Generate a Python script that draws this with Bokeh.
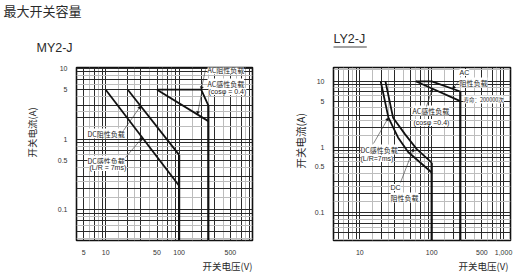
import math
from bokeh.plotting import figure
from bokeh.layouts import row
from bokeh.models import FixedTicker, Grid, Label, Arrow, NormalHead, Range1d, Title
from bokeh.embed import file_html
from bokeh.resources import INLINE

CJK = "Noto Sans CJK SC"
LAT = "Liberation Sans"
INK = "#111111"

# ---------------- MY2-J ----------------
my_x_ticks = [5, 10, 50, 100, 500]
my_x_labels = ["5", "10", "50", "100", "500"]
my_y_ticks = [0.1, 0.5, 1, 5, 10]
my_y_labels = ["0.1", "0.5", "1", "5", "10"]

my_ac_res_v = [50, 200, 250]
my_ac_res_a = [5, 5, 3]
my_ac_ind_v = [50, 250]
my_ac_ind_a = [5, 1.8]
my_dc_res_v = [20, 100]
my_dc_res_a = [5, 0.6]
my_dc_ind_v = [10, 100]
my_dc_ind_a = [5, 0.22]
my_ac_limit_v = 250
my_dc_limit_v = 100

# ---------------- LY2-J ----------------
ly_x_ticks = [10, 100, 500, 1000]
ly_x_labels = ["10", "100", "500", "1,000"]
ly_y_ticks = [0.1, 0.5, 1, 5, 10]
ly_y_labels = ["0.1", "0.5", "1", "5", "10"]

ly_ac_res_v = [60, 100, 250]
ly_ac_res_a = [10, 10, 7]
ly_ac_ind_v = [60, 250]
ly_ac_ind_a = [10, 5]
ly_dc_res_v = [22.7, 29, 42.7, 62, 100]
ly_dc_res_a = [10, 2.8, 1.56, 0.93, 0.58]
ly_dc_ind_v = [19.5, 25, 34, 47, 100]
ly_dc_ind_a = [10, 2.8, 1.4, 0.84, 0.41]
ly_ac_limit_v = 250
ly_dc_limit_v = 100


def decade_lines(mults, lo_exp, hi_exp):
    return [m * 10.0 ** e for e in range(lo_exp, hi_exp + 1) for m in mults]


def make_fig(x_rng, y_rng, border, xt, xl, yt, yl):
    left, right, top, bottom = border
    p = figure(width=262, height=277, x_axis_type="log", y_axis_type="log",
               x_range=Range1d(*x_rng), y_range=Range1d(*y_rng),
               output_backend="svg", toolbar_location=None,
               min_border_left=left, min_border_right=right,
               min_border_top=top, min_border_bottom=bottom)
    p.outline_line_color = INK
    p.outline_line_width = 1.6
    p.grid.visible = False
    # light log-paper rulings, then the heavier ones on top
    for dim in (0, 1):
        p.add_layout(Grid(dimension=dim,
                          ticker=FixedTicker(ticks=decade_lines([1.5, 2.5, 4, 6, 8], -2, 3)),
                          grid_line_color="#bdbdbd", grid_line_width=1))
        p.add_layout(Grid(dimension=dim,
                          ticker=FixedTicker(ticks=decade_lines([1, 2, 3, 5, 7, 9], -2, 3)),
                          grid_line_color="#2a2a2a", grid_line_width=1))
    p.xaxis.ticker = FixedTicker(ticks=xt)
    p.xaxis.major_label_overrides = {v: s for v, s in zip(xt, xl)}
    p.yaxis.ticker = FixedTicker(ticks=yt)
    p.yaxis.major_label_overrides = {v: s for v, s in zip(yt, yl)}
    for ax in (p.xaxis, p.yaxis):
        ax.axis_line_color = None
        ax.major_tick_line_color = None
        ax.minor_tick_line_color = None
        ax.major_label_text_font = LAT
        ax.major_label_text_font_size = "7px"
        ax.major_label_text_color = "#333333"
    p.xaxis.major_label_standoff = 3
    p.yaxis.major_label_standoff = 3
    return p


def heading(p, text, side, size, font, align="left", offset=0, standoff=0, valign="bottom"):
    t = Title(text=text, align=align, offset=offset, standoff=standoff,
              vertical_align=valign, text_font=font, text_font_size=size,
              text_font_style="normal", text_color="#2a2a2a")
    p.add_layout(t, side)
    return t


def curve(p, xs, ys):
    p.line(xs, ys, line_color=INK, line_width=1.8)


def note(p, fx, fy, text, size="7px", font=CJK, bg="white"):
    p.add_layout(Label(x=fx, y=fy, x_units="screen", y_units="screen", text=text,
                       text_font=font, text_font_size=size, text_align="left",
                       text_baseline="middle", text_color="#222222",
                       background_fill_color=bg, background_fill_alpha=1.0))


def pointer(p, sx, sy, ex, ey):
    p.add_layout(Arrow(end=NormalHead(size=3, line_color=INK, fill_color=INK, line_width=0.5),
                       x_start=sx, y_start=sy, start_units="screen",
                       x_end=ex, y_end=ey, end_units="data",
                       line_color="#333333", line_width=0.6))


# ---- left chart: MY2-J ----
L_LEFT, L_BOTTOM = 76, 243
p1 = make_fig((4, 1000), (0.037, 10.3), (76, 10, 67, 34),
              my_x_ticks, my_x_labels, my_y_ticks, my_y_labels)
heading(p1, "MY2-J", "above", "12.5px", LAT, offset=-40, standoff=21, valign="top")
# page heading sits in the band above the model name
p1.add_layout(Label(x=-73, y=20, x_units="screen", y_units="screen",
                    text="最大开关容量", text_font=CJK, text_font_size="13px",
                    text_baseline="middle", text_color="#2a2a2a"), "above")
heading(p1, "开关电流(A)", "left", "9.5px", CJK, offset=83, standoff=31)
heading(p1, "开关电压(V)", "below", "9.5px", CJK, align="right", offset=0, standoff=3, valign="top")

y_floor1 = p1.y_range.start
curve(p1, my_ac_res_v, my_ac_res_a)
curve(p1, my_ac_ind_v, my_ac_ind_a)
curve(p1, my_dc_res_v, my_dc_res_a)
curve(p1, my_dc_ind_v, my_dc_ind_a)
p1.line([my_ac_limit_v] * 2, [my_ac_res_a[-1], y_floor1], line_color=INK, line_width=2.2)
p1.line([my_dc_limit_v] * 2, [my_dc_res_a[-1], y_floor1], line_color=INK, line_width=2.2)


def n1(px, py, text, **kw):
    note(p1, px - L_LEFT, L_BOTTOM - py, text, **kw)


n1(207, 72, "AC阻性负载")
n1(207, 86, "AC感性负载")
n1(208, 94, "(cosφ = 0.4)", font=LAT)
n1(87, 136, "DC阻性负载")
n1(87, 163, "DC感性负载")
n1(89, 170, "(L/R = 7ms)", font=LAT)

pointer(p1, 205 - L_LEFT, L_BOTTOM - 72, 200, 5)
pointer(p1, 201 - L_LEFT, L_BOTTOM - 96, 178, 2.23)
pointer(p1, 123 - L_LEFT, L_BOTTOM - 133, 30, 2.95)
pointer(p1, 125 - L_LEFT, L_BOTTOM - 160, 31.6, 1.05)

# ---- right chart: LY2-J ----
R_LEFT, R_BOTTOM = 333, 240
p2 = make_fig((4.3, 1250), (0.038, 16.2), (71, 14, 64, 37),
              ly_x_ticks, ly_x_labels, ly_y_ticks, ly_y_labels)
heading(p2, "LY2-J", "above", "12.5px", LAT, offset=0, standoff=39, valign="top")
# rule under the model name
p2.add_layout(Label(x=0, y=-34.5, x_units="screen", y_units="screen", text=" ",
                    text_font=LAT, text_font_size="1px", text_baseline="middle",
                    padding=(0, 33, 0, 0), background_fill_color="#444444",
                    background_fill_alpha=1.0), "above")
heading(p2, "开关电流(A)", "left", "10.5px", CJK, offset=72, standoff=7)
heading(p2, "开关电压(V)", "below", "9.5px", CJK, align="right", offset=2, standoff=3, valign="top")

y_floor2 = p2.y_range.start
curve(p2, ly_ac_res_v, ly_ac_res_a)
curve(p2, ly_ac_ind_v, ly_ac_ind_a)
curve(p2, ly_dc_res_v, ly_dc_res_a)
curve(p2, ly_dc_ind_v, ly_dc_ind_a)
p2.line([ly_ac_limit_v] * 2, [ly_ac_res_a[-1], y_floor2], line_color=INK, line_width=2.2)
p2.line([ly_dc_limit_v] * 2, [ly_dc_res_a[-1], y_floor2], line_color=INK, line_width=2.2)


def n2(px, py, text, **kw):
    note(p2, px - R_LEFT, R_BOTTOM - py, text, **kw)


n2(459, 72, "AC", font=LAT)
n2(459, 82, "阻性负载")
n2(463, 99, "寿命：200000次", size="5.5px")
n2(412, 110, "AC感性负载")
n2(413, 122, "(cosφ =0.4)", font=LAT)
n2(360, 149, "DC感性负载")
n2(360, 158, "(L/R=7ms)", font=LAT)
n2(390, 187, "DC", font=LAT)
n2(390, 197, "阻性负载")

pointer(p2, 459 - R_LEFT, R_BOTTOM - 80, 195, 7.7)
pointer(p2, 426 - R_LEFT, R_BOTTOM - 106, 102, 7.7)
pointer(p2, 373 - R_LEFT, R_BOTTOM - 143, ly_dc_ind_v[1], ly_dc_ind_a[1])
pointer(p2, 400 - R_LEFT, R_BOTTOM - 182, 56, 0.95)

layout = row(p1, p2)
open("out.html", "w").write(file_html(layout, INLINE))
